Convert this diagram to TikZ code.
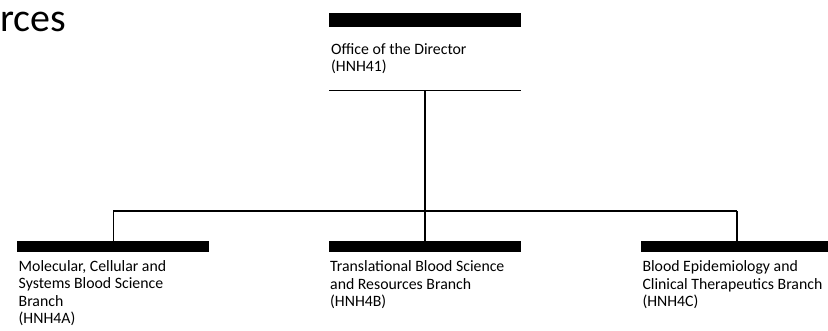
\documentclass[tikz,border=0pt]{standalone}
\usepackage{fontspec}
\setmainfont{Carlito}
\begin{document}
\begin{tikzpicture}[x=1pt,y=-1pt,
  bar/.style={fill=black,draw=none,minimum width=192pt,minimum height=11pt,inner sep=0pt,anchor=north west},
  topbar/.style={bar,minimum height=14pt},
  lbl/.style={anchor=base west,inner sep=0pt,align=left,font=\fontsize{15.8}{17.3}\selectfont},
  conn/.style={line width=1.2pt}]
\useasboundingbox (0,0) rectangle (828,331);
\clip (0,0) rectangle (828,331);
\node[anchor=base west,inner sep=0pt,font=\fontsize{40}{44}\selectfont] (title) at (0,32) {rces};
% director
\node[topbar] (dirbar) at (329,12.7) {};
\node[lbl] (dirtxt) at (331,71.6) {Office of the Director\\(HNH41)};
\coordinate (dl) at (329,90.7);
\coordinate (dr) at (521,90.7);
\draw[conn] (dl) -- (dr);
\coordinate (dm) at (425,90.7);
% branches
\node[bar] (barA) at (17,240.7) {};
\node[bar] (barB) at (329,240.7) {};
\node[bar] (barC) at (641,240.7) {};
\node[lbl] (txtA) at (18.5,323.6) {Molecular, Cellular and\\Systems Blood Science\\Branch\\(HNH4A)};
\node[lbl] (txtB) at (330,306.3) {Translational Blood Science\\and Resources Branch\\(HNH4B)};
\node[lbl] (txtC) at (642.3,306.3) {Blood Epidemiology and\\Clinical Therapeutics Branch\\(HNH4C)};
\coordinate (hA) at (113.3,211);
\coordinate (hB) at (425,211);
\coordinate (hC) at (737,211);
\draw[conn] (dm) -- (hB);
\draw[conn] (hA) -- (hC);
\draw[conn] (hA) -- (hA |- barA.north);
\draw[conn] (hB) -- (hB |- barB.north);
\draw[conn] (hC) -- (hC |- barC.north);
\end{tikzpicture}
\end{document}
